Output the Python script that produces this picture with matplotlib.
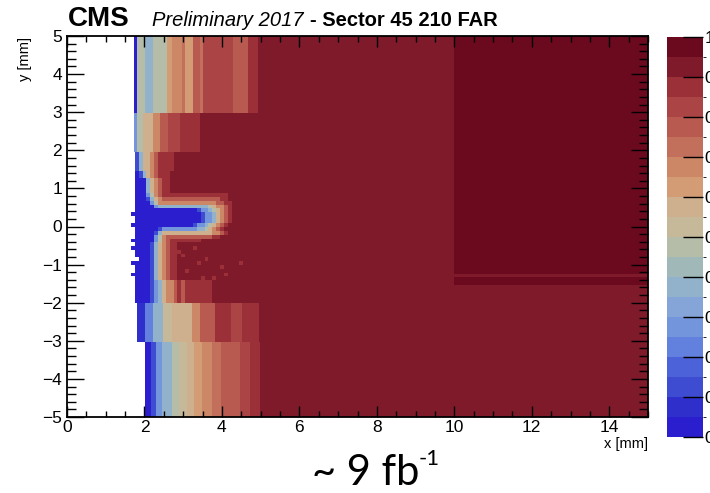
import numpy as np
import matplotlib
matplotlib.use("Agg")
import matplotlib.pyplot as plt
from matplotlib.colors import ListedColormap, BoundaryNorm
from matplotlib.cm import ScalarMappable
from matplotlib.ticker import MultipleLocator

# 20 efficiency contours between 0 and 1 (bottom -> top of the palette)
levels = np.linspace(0.0, 1.0, 21)
level_colors = [
    "#2a1ecf", "#2f30cc", "#3e4cd2", "#4b62d8", "#6280dd",
    "#7395dc", "#85a5d8", "#92b2cc", "#a0b8b8", "#b5bda8",
    "#c5b99a", "#cfb08e", "#d39c75", "#cc8866", "#c2705b",
    "#b85a50", "#ab4545", "#9c3038", "#7f1a2b", "#6b0a1f",
]
cbar_ticks = [1.0, 0.9, 0.8, 0.7, 0.6, 0.5, 0.4, 0.3, 0.2, 0.1, 0.0]
cbar_labels = ["1", "0.9", "0.8", "0.7", "0.6", "0.5", "0.4", "0.3", "0.2", "0.1", "0"]

# bulk of the sensor
bulk_x = [3.4, 10.0, 15.0]
bulk_y = [-5.0, -1.54, -1.33, -1.25, 5.0]
bulk_eff = [
    [0.93, 0.93],
    [0.93, 0.97],
    [0.93, 0.93],
    [0.93, 0.97],
]

# column profiles near the edge, one per horizontal band
band_a_y = [2.98, 5.0]
band_a_x = [1.73, 1.81, 2.01, 2.22, 2.58, 2.71, 2.97, 3.05, 3.25, 3.43, 3.51, 4.29, 4.67, 4.93]
band_a_eff = [0.02, 0.47, 0.37, 0.48, 0.62, 0.67, 0.72, 0.62, 0.77, 0.72, 0.82, 0.78, 0.87]

band_b_y = [1.96, 2.98]
band_b_x = [1.73, 1.81, 1.97, 2.22, 2.40, 2.60, 2.92, 3.43]
band_b_eff = [0.27, 0.48, 0.57, 0.67, 0.77, 0.82, 0.87]

band_d_y = [-3.03, -2.0]
band_d_x = [1.81, 2.01, 2.22, 2.48, 2.70, 2.95, 3.22, 3.44, 3.82, 4.23, 4.52, 4.96]
band_d_eff = [0.08, 0.22, 0.38, 0.52, 0.57, 0.60, 0.67, 0.77, 0.87, 0.82, 0.87]

band_e_y = [-5.0, -3.03]
band_e_x = [2.01, 2.16, 2.31, 2.46, 2.70, 2.90, 3.10, 3.29, 3.49, 3.74, 3.98, 4.23, 4.47, 4.72, 4.98]
band_e_eff = [0.03, 0.12, 0.27, 0.38, 0.47, 0.53, 0.58, 0.62, 0.67, 0.72, 0.76, 0.78, 0.82, 0.87]

# central region with the inefficient arm, 0.1 mm bins, read row by row (top = y 1.96)
# '.' = no data, digits = efficiency class, rows are padded with bulk ('9')
arm_x0, arm_dx, arm_ncols = 1.65, 0.1, 29
arm_y_edges = np.linspace(-2.0, 1.96, 41)
arm_symbols = {"0": 0.02, "1": 0.12, "2": 0.27, "3": 0.38, "4": 0.47,
               "5": 0.57, "6": 0.67, "7": 0.77, "8": 0.87, "9": 0.93}
arm_rows = [
    ".1355678888",
    ".1355678888",
    ".1355678888",
    ".1355678888",
    ".1355678888",
    ".013567888",
    ".013567888",
    ".000356788",
    ".000356788",
    ".000356788",
    ".000356788",
    ".000246788888888888888888",
    ".000135677777777777777788",
    ".0000246666666666666667788",
    ".0000023333333333333456678",
    ".0000000000000000122345678",
    "00000000000000000012235678",
    ".0000000000000000012235678",
    ".0000000000000000012235678",
    "0000000000000000122345678",
    ".00000012222222223345678",
    ".000001355555555555556678",
    ".0000024677777777777788",
    "000000246788888888",
    ".00001356788",
    "00000135678899998",
    ".000013567888",
    ".0000135678898",
    "..000135678899999998",
    "00000135678899999899999999998",
    ".00001356788999999999998",
    ".00001356788998",
    "0000013567889999999999998",
    ".000013567889999998998",
    ".00001235667878888888",
    ".00001235667878888888",
    ".00001235667878888888",
    ".00001235667878888888",
    ".00001235667878888888",
    ".00001235667878888888",
]

x_ticks = [0, 2, 4, 6, 8, 10, 12, 14]
y_ticks = [-5, -4, -3, -2, -1, 0, 1, 2, 3, 4, 5]

cmap = ListedColormap(level_colors)
norm = BoundaryNorm(levels, cmap.N)

fig = plt.figure(figsize=(7.1, 4.93), dpi=100)
ax = fig.add_axes([67 / 710, 76 / 493, 581 / 710, 381 / 493])
cax = fig.add_axes([667 / 710, 56 / 493, 36 / 710, 400 / 493])

mesh_kw = dict(cmap=cmap, norm=norm, shading="flat", edgecolors="none",
               linewidth=0, antialiased=False)

ax.pcolormesh(bulk_x, bulk_y, np.array(bulk_eff), **mesh_kw)
for bx, by, be in [(band_a_x, band_a_y, band_a_eff), (band_b_x, band_b_y, band_b_eff),
                   (band_d_x, band_d_y, band_d_eff), (band_e_x, band_e_y, band_e_eff)]:
    ax.pcolormesh(bx, by, np.array([be]), **mesh_kw)

arm = np.full((len(arm_rows), arm_ncols), np.nan)
for i, row in enumerate(arm_rows):
    for j, ch in enumerate(row.ljust(arm_ncols, "9")[:arm_ncols]):
        if ch != ".":
            arm[i, j] = arm_symbols[ch]
arm = arm[::-1]  # rows were read from the top
arm_x_edges = arm_x0 + arm_dx * np.arange(arm_ncols + 1)
ax.pcolormesh(arm_x_edges, arm_y_edges, np.ma.masked_invalid(arm), **mesh_kw)

ax.set_xlim(0, 15)
ax.set_ylim(-5, 5)
ax.set_xticks(x_ticks)
ax.set_yticks(y_ticks)
ax.xaxis.set_minor_locator(MultipleLocator(0.5))
ax.yaxis.set_minor_locator(MultipleLocator(0.2))
ax.tick_params(which="both", direction="in", top=True, right=True, color="black", width=1)
ax.tick_params(axis="x", which="major", length=8.2, labelsize=12.5, pad=2)
ax.tick_params(axis="x", which="minor", length=4.1)
ax.tick_params(axis="y", which="major", length=12.5, labelsize=12.5, pad=3.5)
ax.tick_params(axis="y", which="minor", length=6.3)
for lab in ax.get_xticklabels() + ax.get_yticklabels():
    lab.set_family("Liberation Sans")
for sp in ax.spines.values():
    sp.set_linewidth(1.3)

fig.text(648 / 710, 1 - 437 / 493, "x [mm]", ha="right", va="top",
         fontsize=10.5, family="Liberation Sans")
fig.text(25 / 710, 1 - 37 / 493, "y [mm]", ha="center", va="top", rotation=90,
         fontsize=10.5, family="Liberation Sans")

# palette labels run off the right edge, as in the original export
cb = fig.colorbar(ScalarMappable(norm=norm, cmap=cmap), cax=cax, ticks=cbar_ticks)
cb.set_ticklabels(cbar_labels)
cb.outline.set_visible(False)
cax.tick_params(direction="in", length=14.4, width=1, color="black", labelsize=12.5, pad=1)
for lab in cax.get_yticklabels():
    lab.set_family("Liberation Sans")

base = 1 - 26 / 493
fig.text(68 / 710, base, "CMS", fontsize=20, fontweight="bold", family="Liberation Sans", va="baseline")
fig.text(152 / 710, base, "Preliminary 2017", fontsize=14.5, style="italic",
         family="Liberation Sans", va="baseline")
fig.text(310 / 710, base, "- Sector 45 210 FAR", fontsize=14.5, fontweight="bold",
         family="Liberation Sans", va="baseline")

fig.text(312 / 710, 1 - 485 / 493, "~ 9 fb", fontsize=30, family="Lato", va="baseline")
fig.text(419 / 710, 1 - 465 / 493, "-1", fontsize=16, family="Lato", va="baseline")

fig.savefig("out.png", dpi=100, facecolor="white")
